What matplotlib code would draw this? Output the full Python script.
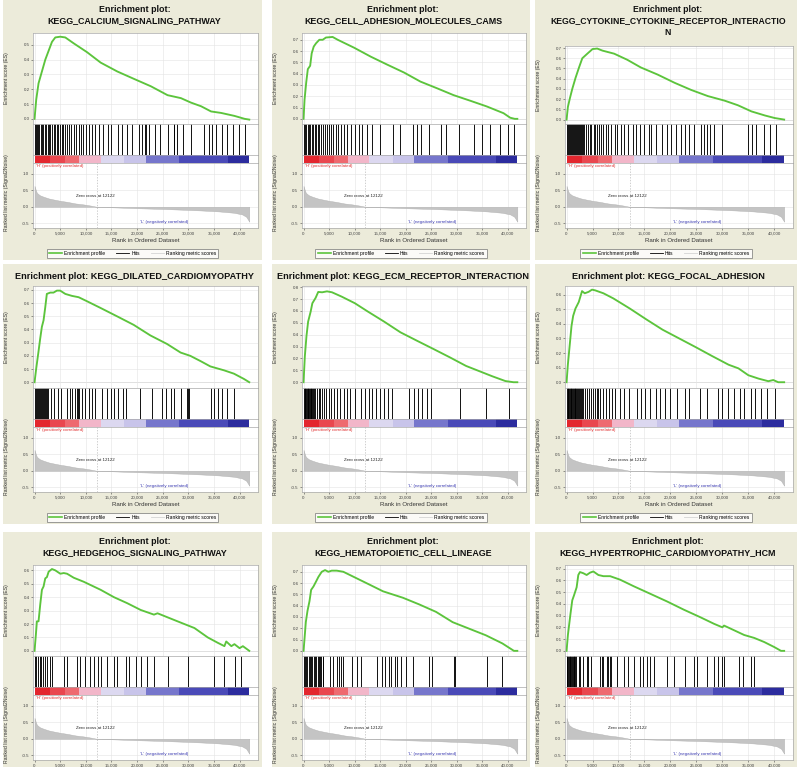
import matplotlib
matplotlib.use('Agg')
import matplotlib.pyplot as plt
from matplotlib.lines import Line2D
from matplotlib.patches import Rectangle
from matplotlib.ticker import FuncFormatter, MultipleLocator

plt.rcParams['font.family'] = ['Liberation Sans', 'DejaVu Sans']

# ---------------- data ----------------
N_GENES = 41900
ZERO_CROSS = 12122

gene_sets = ["KEGG_CALCIUM_SIGNALING_PATHWAY", "KEGG_CELL_ADHESION_MOLECULES_CAMS",
             "KEGG_CYTOKINE_CYTOKINE_RECEPTOR_INTERACTION", "KEGG_DILATED_CARDIOMYOPATHY",
             "KEGG_ECM_RECEPTOR_INTERACTION", "KEGG_FOCAL_ADHESION",
             "KEGG_HEDGEHOG_SIGNALING_PATHWAY", "KEGG_HEMATOPOIETIC_CELL_LINEAGE",
             "KEGG_HYPERTROPHIC_CARDIOMYOPATHY_HCM"]

titles = ["Enrichment plot:\nKEGG_CALCIUM_SIGNALING_PATHWAY",
          "Enrichment plot:\nKEGG_CELL_ADHESION_MOLECULES_CAMS",
          "Enrichment plot:\nKEGG_CYTOKINE_CYTOKINE_RECEPTOR_INTERACTIO\nN",
          "Enrichment plot: KEGG_DILATED_CARDIOMYOPATHY",
          "Enrichment plot: KEGG_ECM_RECEPTOR_INTERACTION",
          "Enrichment plot: KEGG_FOCAL_ADHESION",
          "Enrichment plot:\nKEGG_HEDGEHOG_SIGNALING_PATHWAY",
          "Enrichment plot:\nKEGG_HEMATOPOIETIC_CELL_LINEAGE",
          "Enrichment plot:\nKEGG_HYPERTROPHIC_CARDIOMYOPATHY_HCM"]

# shared ranked list metric
metric_rank = [0, 150, 450, 1000, 1800, 2800, 3700, 5000, 6300, 8000, 9600, 11000, 12122,
               15000, 19350, 25860, 32400, 36000, 38900, 40500, 41300, 41900]
metric_value = [0.63, 0.55, 0.42, 0.35, 0.30, 0.25, 0.22, 0.18, 0.15, 0.10, 0.07, 0.035, 0.0,
                -0.015, -0.04, -0.07, -0.11, -0.14, -0.18, -0.23, -0.30, -0.45]

# heat bar blocks
bar_edges = [0, 3000, 6000, 8700, 12900, 17500, 21700, 28250, 37700, 41900]
bar_colors = ['#e3262e', '#e9474f', '#ee6a70', '#f2b6c9', '#dcd8f0', '#c8c4ea',
              '#7676cc', '#4a4ab8', '#2c2c9e']

pos_label = "'H' (positively correlated)"
neg_label = "'L' (negatively correlated)"

# running enrichment scores
es_rank_calcium = [0, 330, 780, 1440, 2100, 2750, 3400, 4050, 5000, 6000, 7650, 10260, 12900, 16150,
                   19400, 22700, 25950, 28560, 30500, 32500, 34440, 36400, 39000, 41000, 41900]
es_calcium = [0, 0.13, 0.24, 0.32, 0.40, 0.46, 0.52, 0.55, 0.555, 0.55, 0.51, 0.45, 0.38, 0.32,
              0.27, 0.22, 0.16, 0.14, 0.11, 0.085, 0.05, 0.04, 0.02, 0.0, -0.005]
hits_calcium = [100, 300, 500, 700, 900, 1200, 1500, 1700, 2000, 2300, 2600, 2900, 3100, 3400, 3700,
                4000, 4300, 4600, 5000, 5300, 5600, 6000, 6400, 6800, 7200, 7700, 8100, 8600, 9000,
                9500, 10100, 10700, 11200, 11800, 12500, 13300, 14300, 15000, 16200, 17000, 18000,
                19000, 20300, 21000, 21500, 21700, 22300, 23500, 24500, 26000, 27200, 27300, 27800,
                29000, 30500, 33000, 34000, 34600, 35500, 36600, 37500, 38800, 39800, 41000]

es_rank_cam = [0, 200, 520, 840, 1300, 1600, 2000, 2470, 3100, 3760, 4400, 5700, 6700, 9900, 13200,
               16400, 19700, 22900, 26200, 29400, 32700, 35900, 39200, 40500, 41400, 41900]
es_cam = [0, 0.17, 0.32, 0.44, 0.47, 0.58, 0.64, 0.67, 0.70, 0.70, 0.72, 0.725, 0.70, 0.63, 0.55,
          0.48, 0.41, 0.33, 0.27, 0.21, 0.16, 0.11, 0.05, 0.01, 0.0, 0.0]
hits_cam = [100, 300, 500, 800, 1000, 1300, 1600, 1900, 2200, 2500, 2800, 3100, 3400, 3800, 4200,
            4600, 5000, 5400, 5800, 6300, 6800, 7400, 8000, 8600, 9300, 10000, 10800, 11500, 12500,
            13500, 15000, 17500, 19000, 21500, 22300, 23000, 24500, 27000, 28000, 30500, 33500,
            35000, 36500, 38500, 40000, 41200]

es_rank_cyto = [0, 260, 650, 1100, 1740, 2400, 3030, 4000, 5000, 5900, 6900, 9160, 11700, 14300,
                17550, 20800, 24000, 27200, 30450, 33000, 35600, 38200, 40100, 41900]
es_cyto = [0, 0.125, 0.21, 0.30, 0.41, 0.51, 0.60, 0.645, 0.69, 0.695, 0.675, 0.645, 0.585, 0.51,
           0.44, 0.36, 0.29, 0.23, 0.185, 0.14, 0.08, 0.04, 0.015, 0.0]
hits_cyto = [50, 250, 450, 650, 850, 1050, 1250, 1450, 1650, 1850, 2050, 2250, 2450, 2650, 2850,
             3050, 3250, 3450, 3650, 4100, 4500, 4800, 5200, 5500, 5800, 6200, 6600, 7000, 7500,
             8000, 8500, 9300, 9800, 10500, 11000, 11900, 12700, 13300, 14200, 15000, 15800, 16300,
             17200, 18300, 19300, 20200, 21000, 22000, 22800, 23500, 24500, 25800, 26400, 27000,
             27600, 28300, 30000, 35000, 35800, 36500, 38000, 39200, 40300]

es_rank_dcm = [0, 330, 780, 1100, 1430, 1760, 2080, 2400, 3060, 3700, 4360, 5000, 6000, 7300, 8600,
               10200, 12800, 16100, 19350, 22600, 25860, 28500, 30400, 32400, 34300, 37000, 38900,
               40850, 41900]
es_dcm = [0, 0.105, 0.235, 0.33, 0.42, 0.47, 0.565, 0.67, 0.68, 0.68, 0.695, 0.695, 0.67, 0.655,
          0.645, 0.615, 0.565, 0.50, 0.435, 0.355, 0.29, 0.225, 0.20, 0.16, 0.12, 0.09, 0.065,
          0.025, 0.0]
hits_dcm = [100, 300, 500, 700, 900, 1100, 1300, 1500, 1700, 1900, 2100, 2300, 2500, 2700, 3300,
            3700, 4600, 5100, 6400, 6900, 7300, 7900, 8300, 8500, 8700, 9300, 9900, 10600, 11300,
            11800, 13200, 14200, 15000, 15600, 16300, 17300, 17900, 20600, 22900, 24900, 25600,
            26600, 27200, 28600, 29800, 30000, 30200, 34400, 35000, 35800, 36600, 37600, 39000]

es_rank_ecm = [0, 260, 580, 900, 1400, 1730, 2370, 2880, 3650, 4600, 5580, 7500, 10060, 12600,
               15800, 19000, 22200, 25450, 28650, 31860, 34400, 37000, 39550, 41150, 41900]
es_ecm = [0, 0.22, 0.39, 0.51, 0.595, 0.665, 0.71, 0.76, 0.757, 0.765, 0.757, 0.72, 0.665, 0.595,
          0.51, 0.42, 0.35, 0.28, 0.21, 0.137, 0.094, 0.05, 0.01, 0.0, 0.0]
hits_ecm = [50, 200, 350, 500, 650, 800, 950, 1100, 1250, 1400, 1550, 1700, 1850, 2000, 2300, 2600,
            3000, 3300, 3700, 4100, 4400, 4900, 5400, 6000, 6600, 7200, 8000, 8600, 9200, 10000,
            11300, 12000, 12800, 13500, 14300, 15000, 15800, 16600, 17300, 20600, 21600, 22500,
            23300, 24100, 25000, 30600, 35700, 40200]

es_rank_focal = [0, 250, 635, 950, 1270, 1710, 2350, 2980, 3500, 4250, 4900, 5520, 7100, 9000,
                 12200, 15400, 18500, 21700, 24900, 28000, 31200, 33100, 35000, 36950, 38850,
                 39800, 40760, 41900]
es_focal = [0, 0.12, 0.265, 0.385, 0.455, 0.505, 0.55, 0.625, 0.61, 0.62, 0.635, 0.63, 0.61, 0.575,
            0.505, 0.43, 0.36, 0.30, 0.24, 0.18, 0.12, 0.095, 0.048, 0.025, 0.007, 0.015, 0.0, 0.0]
hits_focal = [50, 200, 350, 500, 650, 800, 950, 1100, 1250, 1400, 1550, 1700, 1850, 2000, 2200,
              2400, 2600, 2800, 3000, 3200, 3600, 4000, 4300, 4700, 5000, 5400, 5800, 6100, 6500,
              7000, 7500, 8200, 8700, 9300, 10200, 11000, 12000, 13600, 14300, 15100, 16000, 17300,
              18000, 19000, 20000, 21300, 22800, 23500, 25600, 27000, 29200, 30000, 31000, 32300,
              33300, 34200, 35500, 36300, 37500, 38500, 40100]

es_rank_hh = [0, 260, 460, 780, 1110, 1440, 1760, 2090, 2420, 2750, 3400, 4050, 5030, 5700, 6340,
              7650, 9600, 12900, 15500, 18100, 20700, 23300, 24000, 25950, 28560, 31200, 33800,
              35750, 37050, 37400, 38400, 39000, 40000, 40650, 41900]
es_hh = [0, 0.12, 0.22, 0.22, 0.345, 0.455, 0.48, 0.54, 0.55, 0.59, 0.61, 0.60, 0.575, 0.58, 0.575,
         0.545, 0.515, 0.455, 0.40, 0.355, 0.305, 0.27, 0.28, 0.25, 0.21, 0.17, 0.10, 0.06, 0.035,
         0.07, 0.035, 0.05, 0.02, 0.035, 0.0]
hits_hh = [0, 260, 590, 980, 1240, 1570, 1960, 2420, 2940, 3400, 5690, 6340, 8300, 8950, 9930,
           10780, 11570, 12350, 12880, 14050, 15490, 16010, 17780, 18430, 19740, 20720, 22030,
           23330, 25950, 29870, 35100, 37060, 39020, 40330]

es_rank_hem = [0, 200, 450, 780, 1170, 1490, 1950, 2470, 2920, 3570, 4220, 4870, 5520, 6500, 7800,
               9740, 12990, 15580, 19480, 22730, 25970, 29220, 32470, 35720, 38960, 41230, 41900]
es_hem = [0, 0.11, 0.255, 0.355, 0.44, 0.54, 0.57, 0.615, 0.655, 0.70, 0.715, 0.70, 0.71, 0.71,
          0.70, 0.657, 0.585, 0.527, 0.47, 0.41, 0.345, 0.254, 0.196, 0.138, 0.066, 0.0, 0.0]
hits_hem = [0, 250, 500, 750, 1000, 1250, 1500, 1750, 2000, 2250, 2500, 2750, 3000, 3250, 3500,
            3750, 3900, 5200, 5800, 6500, 6900, 7300, 7800, 9550, 10500, 11200, 14400, 15400,
            16050, 16700, 17200, 17900, 18300, 19200, 20000, 21400, 24600, 25200, 29400, 29700,
            36000, 38800]

es_rank_hcm = [0, 260, 520, 770, 1100, 1420, 1940, 2260, 2580, 3230, 3870, 4520, 5160, 6130, 7100,
               8390, 10320, 12900, 16130, 19350, 22580, 25800, 28390, 30000, 30320, 32260, 34190,
               36130, 38060, 40000, 41290, 41900]
es_hcm = [0, 0.135, 0.23, 0.32, 0.43, 0.47, 0.54, 0.645, 0.67, 0.66, 0.645, 0.665, 0.675, 0.645,
          0.635, 0.635, 0.605, 0.55, 0.485, 0.42, 0.35, 0.285, 0.23, 0.20, 0.215, 0.175, 0.135,
          0.11, 0.075, 0.032, 0.0, 0.0]
hits_hcm = [0, 150, 300, 450, 600, 750, 900, 1050, 1200, 1350, 1500, 1650, 1800, 2300, 2600, 3200,
            3900, 4200, 4800, 6450, 6800, 7100, 7700, 8000, 8300, 8500, 9700, 10970, 11900, 12900,
            14200, 14800, 15500, 16130, 16800, 19350, 20650, 22900, 24500, 25200, 27100, 28400,
            29200, 30000, 30300, 33200, 33900, 35500, 36100]

es_ranks = [es_rank_calcium, es_rank_cam, es_rank_cyto, es_rank_dcm, es_rank_ecm, es_rank_focal,
            es_rank_hh, es_rank_hem, es_rank_hcm]
es_scores = [es_calcium, es_cam, es_cyto, es_dcm, es_ecm, es_focal, es_hh, es_hem, es_hcm]
hit_lists = [hits_calcium, hits_cam, hits_cyto, hits_dcm, hits_ecm, hits_focal, hits_hh, hits_hem,
             hits_hcm]
es_ylim_top = [0.58, 0.76, 0.72, 0.73, 0.81, 0.66, 0.64, 0.76, 0.73]

# ---------------- layout ----------------
W, H = 800, 767
fig = plt.figure(figsize=(W / 100, H / 100), dpi=100)
fig.patch.set_facecolor('white')

BEIGE = '#ecebda'
GREEN = '#5cc43c'
SPINE = '#a8a8a8'
GRID = '#e4e4e4'
col_x = [3, 272, 535]
col_w = [259, 258, 262]
row_y = [0, 264, 532]
PANEL_H = 260
es_top_rel = [33, 33, 46, 22, 22, 22, 33, 33, 33]
title_fs = [6.4, 6.4, 6.2, 6.6, 6.6, 6.6, 6.4, 6.4, 6.4]


def fr(x, y, w, h):
    return [x / W, 1 - (y + h) / H, w / W, h / H]


xfmt = FuncFormatter(lambda v, p: f"{int(v):,}")

for i in range(9):
    r, c = divmod(i, 3)
    px, py, pw = col_x[c], row_y[r], col_w[c]
    fig.add_artist(Rectangle((px / W, 1 - (py + PANEL_H) / H), pw / W, PANEL_H / H,
                             transform=fig.transFigure, facecolor=BEIGE, edgecolor='none',
                             zorder=0))
    ax_l = px + 30
    ax_w = pw - 34
    xlim = (-300, 43600)
    on_canvas = py + 240 < H  # bottom texts visible only for the upper two rows

    # title
    ty = py + (8 if '\n' not in titles[i] else 5)
    fig.text((px + pw / 2 + 2) / W, 1 - ty / H, titles[i], ha='center', va='top',
             fontsize=title_fs[i], fontweight='bold', linespacing=1.35, color='#111111')

    # ES panel
    es_top = py + es_top_rel[i]
    es_bot = py + 124
    ax = fig.add_axes(fr(ax_l, es_top, ax_w, es_bot - es_top))
    ax.plot(es_ranks[i], es_scores[i], color=GREEN, lw=1.35, solid_joinstyle='round')
    ax.set_xlim(*xlim)
    ax.set_ylim(-0.06 * es_ylim_top[i], es_ylim_top[i])
    ax.yaxis.set_major_locator(MultipleLocator(0.1))
    ax.yaxis.set_major_formatter(FuncFormatter(lambda v, p: f"{v:.1f}"))
    ax.xaxis.set_major_locator(MultipleLocator(5000))
    ax.tick_params(axis='x', length=0, labelbottom=False)
    ax.tick_params(axis='y', labelsize=3.2, length=1.2, width=0.4, pad=1, colors='#444444')
    ax.grid(True, color=GRID, lw=0.4)
    ax.axhline(0, color='#cfcfcf', lw=0.5, zorder=1)
    ax.set_ylabel('Enrichment score (ES)', fontsize=3.7, color='#333333')
    ax.yaxis.set_label_coords(-0.105, 0.5)
    for s in ax.spines.values():
        s.set_color(SPINE)
        s.set_linewidth(0.5)

    # hits
    hx = fig.add_axes(fr(ax_l, es_bot, ax_w, 31))
    hx.vlines(hit_lists[i], 0, 1, color='black', lw=0.65)
    hx.set_xlim(*xlim)
    hx.set_ylim(0, 1)
    hx.set_xticks([])
    hx.set_yticks([])
    for s in hx.spines.values():
        s.set_color(SPINE)
        s.set_linewidth(0.5)

    # heat bar
    cb = fig.add_axes(fr(ax_l, es_bot + 31, ax_w, 8))
    cb.broken_barh([(bar_edges[k], bar_edges[k + 1] - bar_edges[k]) for k in range(len(bar_colors))],
                   (0, 1), facecolors=bar_colors, edgecolor='none')
    cb.set_xlim(*xlim)
    cb.set_ylim(0, 1)
    cb.set_xticks([])
    cb.set_yticks([])
    for s in cb.spines.values():
        s.set_color(SPINE)
        s.set_linewidth(0.5)

    # ranked list metric
    mx = fig.add_axes(fr(ax_l, es_bot + 39, ax_w, 65))
    mx.fill_between(metric_rank, metric_value, 0, color='#c4c4c4', lw=0.3, edgecolor='#b0b0b0')
    mx.axvline(ZERO_CROSS, color='#bbbbbb', lw=0.5, ls=(0, (2, 2)))
    mx.set_xlim(*xlim)
    mx.set_ylim(-0.64, 1.32)
    mx.set_yticks([-0.5, 0.0, 0.5, 1.0])
    mx.yaxis.set_major_formatter(FuncFormatter(lambda v, p: f"{v:.1f}"))
    mx.set_xticks(range(0, 40001, 5000))
    mx.xaxis.set_major_formatter(xfmt)
    mx.tick_params(labelsize=3.2, length=1.2, width=0.4, pad=1.5, colors='#444444')
    mx.grid(True, color=GRID, lw=0.4)
    mx.set_axisbelow(True)
    if on_canvas:
        mx.set_xlabel('Rank in Ordered Dataset', fontsize=4.4, color='#333333', labelpad=1.5)
    mx.set_ylabel('Ranked list metric (Signal2Noise)', fontsize=3.7, color='#333333')
    mx.yaxis.set_label_coords(-0.105, 0.55)
    mx.text(300, 1.30, pos_label, color='#e03030', fontsize=3.2, va='top', ha='left')
    mx.text(8000, 0.33, f"Zero cross at {ZERO_CROSS}", color='#222222', fontsize=3.2,
            va='center', ha='left')
    mx.text(20500, -0.47, neg_label, color='#3838b0', fontsize=3.2, va='center', ha='left')
    for s in mx.spines.values():
        s.set_color(SPINE)
        s.set_linewidth(0.5)

    # legend
    if on_canvas:
        handles = [Line2D([], [], color=GREEN, lw=1.2), Line2D([], [], color='black', lw=0.6),
                   Line2D([], [], color='#d4d4d4', lw=0.6)]
        leg = fig.legend(handles, ['Enrichment profile', 'Hits', 'Ranking metric scores'],
                         loc='center', bbox_to_anchor=((px + pw / 2) / W, 1 - (py + 253.5) / H),
                         ncol=3, fontsize=3.6, frameon=True, fancybox=False, handlelength=2.6,
                         handletextpad=0.4, columnspacing=2.2, borderpad=0.45)
        leg.get_frame().set_edgecolor('#707070')
        leg.get_frame().set_linewidth(0.6)
        leg.get_frame().set_facecolor('white')

fig.savefig('out.png', dpi=100, facecolor='white')
